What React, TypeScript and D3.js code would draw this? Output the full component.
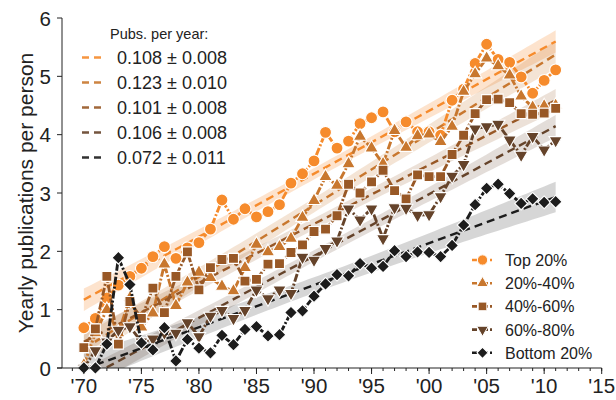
import React from 'react';
import * as d3 from 'd3';

const years = d3.range(1970, 2012);
const seriesNames = ['Top 20%', '20%-40%', '40%-60%', '60%-80%', 'Bottom 20%'];

const top20 = [0.69, 0.85, 1.2, 1.42, 1.57, 1.71, 1.91, 2.08, 1.88, 2.06, 2.15, 2.38, 2.88, 2.55, 2.73, 2.59, 2.68, 2.8, 3.17, 3.33, 3.55, 4.04, 3.77, 3.89, 4.19, 4.29, 4.39, 4.05, 4.22, 4.05, 4.05, 3.99, 4.59, 4.78, 5.22, 5.55, 5.29, 5.24, 4.99, 4.71, 4.93, 5.11];
const p20to40 = [0.05, 0.6, 1.0, 0.6, 1.2, 0.7, 0.94, 1.78, 1.07, 1.47, 1.64, 1.55, 1.4, 1.32, 1.72, 2.12, 1.99, 2.08, 2.22, 2.58, 2.87, 3.28, 3.13, 3.5, 3.97, 3.77, 3.5, 4.07, 3.78, 3.98, 4.01, 3.88, 4.14, 4.74, 5.04, 5.31, 5.18, 5.02, 4.66, 4.47, 4.49, 4.5];
const p40to60 = [0.35, 0.67, 1.57, 0.41, 1.14, 0.85, 1.37, 0.95, 1.57, 1.99, 1.34, 1.72, 1.86, 1.88, 1.49, 1.52, 1.78, 1.79, 1.98, 2.11, 2.34, 2.38, 2.61, 3.15, 3.0, 3.19, 3.39, 3.04, 2.9, 3.31, 3.28, 3.28, 3.66, 3.99, 4.36, 4.6, 4.61, 4.55, 4.36, 4.35, 4.37, 4.45];
const p60to80 = [0.0, 0.3, 0.45, 0.65, 0.71, 0.45, 0.5, 0.6, 0.6, 0.78, 0.54, 0.89, 0.99, 0.85, 0.99, 1.34, 1.19, 1.34, 1.28, 1.9, 1.85, 2.05, 2.18, 2.73, 2.54, 2.73, 2.22, 2.75, 2.74, 2.62, 2.63, 2.94, 3.29, 3.49, 4.1, 4.14, 4.18, 3.91, 3.65, 3.97, 3.74, 3.9];
const bottom20 = [0.0, 0.0, 0.41, 1.89, 1.43, 0.43, 0.31, 0.69, 0.12, 0.49, 0.34, 0.26, 0.56, 0.4, 0.66, 0.71, 0.55, 0.57, 0.95, 0.98, 1.23, 1.44, 1.6, 1.58, 1.79, 1.71, 1.74, 2.01, 1.91, 1.99, 1.98, 1.91, 2.1, 2.45, 2.8, 3.08, 3.15, 2.99, 2.82, 2.9, 2.84, 2.85];

const seriesValues = [top20, p20to40, p40to60, p60to80, bottom20];

const slopes = [0.108, 0.123, 0.101, 0.106, 0.072];
const slopeErrs = [0.008, 0.010, 0.008, 0.008, 0.011];
const fitAt1970 = [1.17, 0.33, 0.45, -0.2, -0.02];

const yTicks = [0, 1, 2, 3, 4, 5, 6];
const xMajorYears = [1970, 1975, 1980, 1985, 1990, 1995, 2000, 2005, 2010, 2015];
const xTickLabels = ["'70", "'75", "'80", "'85", "'90", "'95", "'00", "'05", "'10", "'15"];
const xMinorYears = d3.range(1969, 2016);

const colors = ['#F68B2C', '#C8772E', '#985826', '#65432A', '#1C1C1C'];
const bandOpacity = [0.24, 0.2, 0.18, 0.18, 0.2];
const FONT = '"Liberation Sans", Arial, Helvetica, sans-serif';

const symbolDefs = [
  { type: d3.symbolCircle, size: 112, rot: 0 },
  { type: d3.symbolTriangle, size: 78, rot: 0 },
  { type: d3.symbolSquare, size: 100, rot: 0 },
  { type: d3.symbolTriangle, size: 78, rot: 180 },
  { type: d3.symbolSquare, size: 82, rot: 45 },
];

export default function App() {
  const x = d3.scaleLinear().domain([1968.1, 2015]).range([62, 601.7]);
  const y = d3.scaleLinear().domain([0, 6]).range([368, 18]);
  const meanYear = d3.mean(years) as number;
  const varYears = d3.variance(years) as number;

  const line = d3
    .line<number>()
    .x((_, i) => x(years[i]))
    .y((d) => y(d));

  const fitYears = d3.range(1970, 2011.01, 0.5);

  return (
    <svg width={616} height={400} style={{ position: 'absolute', left: 0, top: 0, background: '#fff' }} fontFamily={FONT}>
      <defs>
        <clipPath id="plotClip">
          <rect x={62} y={0} width={560} height={368} />
        </clipPath>
      </defs>

      {/* confidence bands */}
      <g clipPath="url(#plotClip)">
        {seriesValues.map((_, s) => {
          const area = d3
            .area<number>()
            .x((yr) => x(yr))
            .y0((yr) => {
              const c = fitAt1970[s] + slopes[s] * (yr - 1970);
              const hw = slopeErrs[s] * Math.sqrt((yr - meanYear) ** 2 + varYears);
              return y(c - hw);
            })
            .y1((yr) => {
              const c = fitAt1970[s] + slopes[s] * (yr - 1970);
              const hw = slopeErrs[s] * Math.sqrt((yr - meanYear) ** 2 + varYears);
              return y(c + hw);
            });
          return <path key={'band' + s} d={area(fitYears) || ''} fill={s === 4 ? '#000' : colors[s]} fillOpacity={s === 4 ? 0.16 : bandOpacity[s]} />;
        })}
        {seriesValues.map((_, s) => {
          const fl = d3
            .line<number>()
            .x((yr) => x(yr))
            .y((yr) => y(fitAt1970[s] + slopes[s] * (yr - 1970)));
          return (
            <path key={'fit' + s} d={fl([1970, 2011]) || ''} fill="none" stroke={colors[s]} strokeWidth={2.4} strokeDasharray="8 5" />
          );
        })}
      </g>

      {/* data series */}
      {seriesValues.map((vals, s) => {
        const sym = d3.symbol().type(symbolDefs[s].type).size(symbolDefs[s].size)() || '';
        return (
          <g key={'s' + s}>
            <path d={line(vals) || ''} fill="none" stroke={colors[s]} strokeWidth={2.9} strokeDasharray="8 2 2 2" strokeLinejoin="round" />
            {vals.map((v, i) => (
              <path
                key={i}
                d={sym}
                transform={`translate(${x(years[i])},${y(v)}) rotate(${symbolDefs[s].rot})`}
                fill={colors[s]}
                stroke="#fff"
                strokeWidth={1.1}
              />
            ))}
          </g>
        );
      })}

      {/* axes */}
      <line x1={62} x2={62} y1={y(6)} y2={y(0)} stroke="#222" strokeWidth={1} />
      <line x1={57} x2={x(2015)} y1={368} y2={368} stroke="#222" strokeWidth={1} />
      {yTicks.map((t) => (
        <g key={'yt' + t}>
          <line x1={57} x2={62} y1={y(t)} y2={y(t)} stroke="#222" strokeWidth={1} />
          <text x={51} y={y(t) + 7.5} textAnchor="end" fontSize={20.5} fill="#222">
            {t}
          </text>
        </g>
      ))}
      {xMinorYears.map((yr) => (
        <line key={'mx' + yr} x1={x(yr)} x2={x(yr)} y1={368} y2={371} stroke="#222" strokeWidth={1} />
      ))}
      {xMajorYears.map((yr, i) => (
        <g key={'xt' + yr}>
          <line x1={x(yr)} x2={x(yr)} y1={368} y2={374} stroke="#222" strokeWidth={1} />
          <text x={x(yr)} y={393} textAnchor="middle" fontSize={20.5} fill="#222">
            {xTickLabels[i]}
          </text>
        </g>
      ))}
      <text transform="translate(33,193) rotate(-90)" textAnchor="middle" fontSize={21} fill="#222">
        Yearly publications per person
      </text>

      {/* slope legend */}
      <text x={110} y={39} fontSize={14.5} fill="#222">
        Pubs. per year:
      </text>
      {slopes.map((b, s) => {
        const cy = 57.5 + s * 25;
        return (
          <g key={'sl' + s}>
            <line x1={82} x2={101} y1={cy} y2={cy} stroke={colors[s]} strokeWidth={2.3} strokeDasharray="7 5" opacity={0.9} />
            <text x={117} y={cy + 6.5} fontSize={18} fill="#222">
              {b.toFixed(3)} ± {slopeErrs[s].toFixed(3)}
            </text>
          </g>
        );
      })}

      {/* series legend */}
      {seriesNames.map((name, s) => {
        const cy = 260 + s * 23.2;
        const sym = d3.symbol().type(symbolDefs[s].type).size(symbolDefs[s].size * 0.75)() || '';
        return (
          <g key={'lg' + s}>
            <line x1={472} x2={493} y1={cy} y2={cy} stroke={colors[s]} strokeWidth={2.6} strokeDasharray="5 2 2 2" />
            <path d={sym} transform={`translate(482.5,${cy}) rotate(${symbolDefs[s].rot})`} fill={colors[s]} stroke="#fff" strokeWidth={1} />
            <text x={505} y={cy + 6} fontSize={16} fill="#222">
              {name}
            </text>
          </g>
        );
      })}
    </svg>
  );
}
